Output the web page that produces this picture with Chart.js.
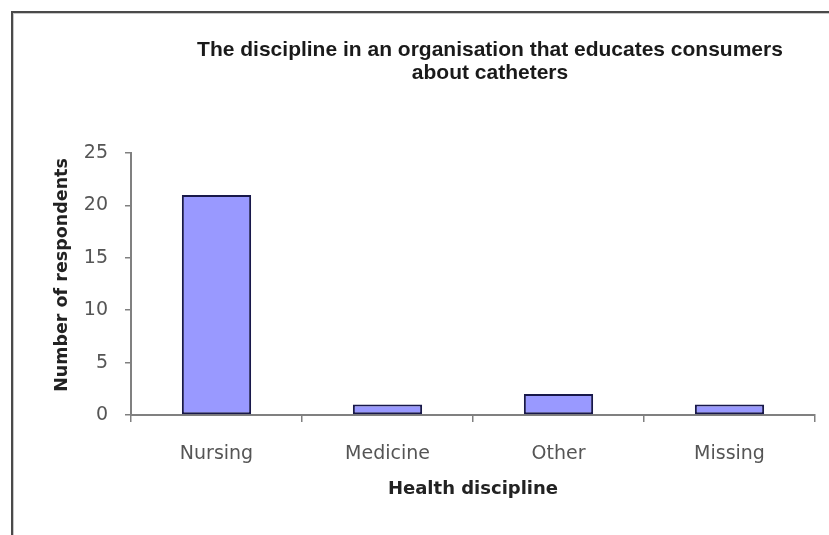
<!DOCTYPE html>
<html>
<head>
<meta charset="utf-8">
<script src="https://cdn.jsdelivr.net/npm/chart.js@4/dist/chart.umd.min.js"></script>
<style>
  html, body { margin: 0; padding: 0; background: #fff; }
  #wrap { position: relative; width: 829px; height: 535px; overflow: hidden; }
  #frame {
    position: absolute; left: 11px; top: 11px; width: 900px; height: 600px;
    border-left: 2px solid #4a4a4a; border-top: 2px solid #4a4a4a;
    box-shadow: inset 1px 1px 0 #c8c8c8;
  }
  #c { position: absolute; left: 0; top: 0; }
</style>
</head>
<body>
<div id="wrap">
  <div id="frame"></div>
  <canvas id="c" width="829" height="535"></canvas>
</div>
<script>
// Categories and counts
const categories = ['Nursing', 'Medicine', 'Other', 'Missing'];
const respondents = [21, 1, 2, 1];
const yTicks = [0, 5, 10, 15, 20, 25];
const titleLines = ['The discipline in an organisation that educates consumers', 'about catheters'];
const xTitle = 'Health discipline';
const yTitle = 'Number of respondents';

// Two-line heading centred above the plot, plus the rotated value-axis caption
const headingPlugin = {
  id: 'heading',
  afterDraw(chart) {
    const ctx = chart.ctx;
    ctx.save();
    ctx.font = 'bold 21px "Liberation Sans", Arial, sans-serif';
    ctx.fillStyle = '#1a1a1a';
    ctx.textAlign = 'center';
    ctx.textBaseline = 'middle';
    titleLines.forEach((line, i) => ctx.fillText(line, 490, 50 + i * 23));
    ctx.restore();

    ctx.save();
    ctx.translate(62, 275);
    ctx.rotate(-Math.PI / 2);
    ctx.font = 'bold 17.5px "DejaVu Sans", sans-serif';
    ctx.fillStyle = '#222';
    ctx.textAlign = 'center';
    ctx.textBaseline = 'middle';
    ctx.fillText(yTitle, 0, 0);
    ctx.restore();
  }
};

new Chart(document.getElementById('c'), {
  type: 'bar',
  data: {
    labels: categories,
    datasets: [{
      data: respondents,
      backgroundColor: '#9999ff',
      borderColor: '#18184a',
      borderWidth: 2,
      borderSkipped: false,
      categoryPercentage: 1,
      barPercentage: 0.405
    }]
  },
  options: {
    responsive: false,
    animation: false,
    layout: { padding: { left: 53, right: 14, top: 153, bottom: 35 } },
    plugins: { legend: { display: false }, tooltip: { enabled: false }, title: { display: false } },
    scales: {
      x: {
        offset: true,
        afterFit(s) { s.height = 85; },
        grid: { display: true, drawOnChartArea: false, offset: true, tickLength: 7, color: '#808080', lineWidth: 1.5 },
        border: { display: true, color: '#808080', width: 2 },
        ticks: { padding: 21, color: '#555', font: { family: '"DejaVu Sans", sans-serif', size: 19 } },
        title: { display: true, text: xTitle, color: '#222', padding: 0,
                 font: { family: '"DejaVu Sans", sans-serif', size: 18, weight: 'bold' } }
      },
      y: {
        min: 0, max: 25,
        afterFit(s) { s.width = 78; },
        afterBuildTicks(s) { s.ticks = yTicks.map(v => ({ value: v })); },
        grid: { display: true, drawOnChartArea: false, tickLength: 6, color: '#808080', lineWidth: 1.5 },
        border: { display: true, color: '#808080', width: 2 },
        ticks: { padding: 17, color: '#555', font: { family: '"DejaVu Sans", sans-serif', size: 19 } },
        title: { display: false }
      }
    }
  },
  plugins: [headingPlugin]
});
</script>
</body>
</html>
